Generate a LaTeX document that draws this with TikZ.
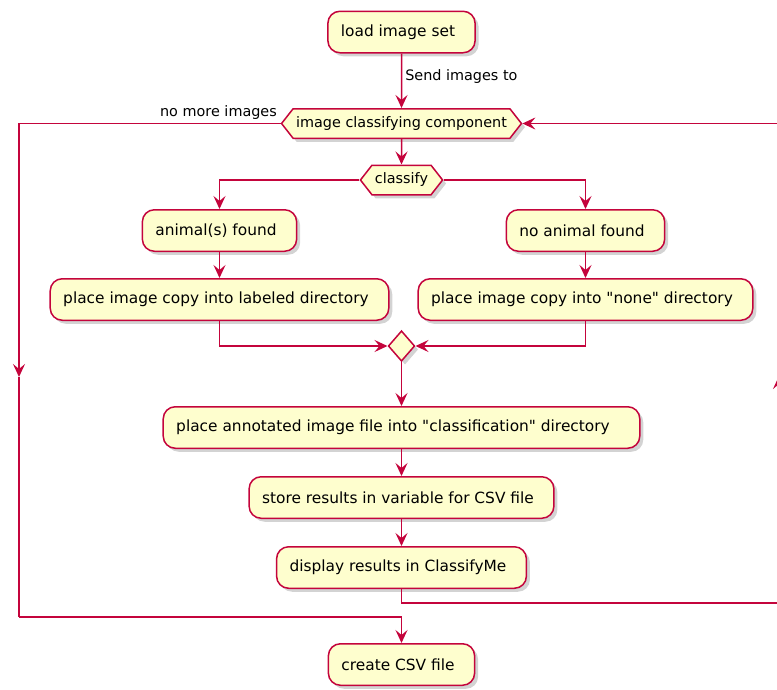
\documentclass[tikz,border=0pt]{standalone}
\usepackage{fontspec}
\setmainfont{DejaVu Sans}
\usetikzlibrary{positioning,shapes.geometric,shapes.symbols,shadows,arrows.meta}
\definecolor{umlred}{HTML}{C4043C}
\definecolor{umlfill}{HTML}{FEFECE}
\tikzset{
 b/.style
  = {rectangle, draw=umlred, fill=umlfill, line width=1.5pt, rounded corners=12pt,
     minimum height=41.5pt, inner xsep=13pt, font=\fontsize{15.4}{18}\selectfont,
     execute at end node=\hspace{7pt},
     drop shadow={shadow xshift=3.5pt, shadow yshift=-3.5pt, opacity=0.35}},
 h/.style
  = {signal, signal to=east and west, signal pointer angle=104, draw=umlred,
     fill=umlfill, line width=1.5pt, minimum height=29.5pt, inner xsep=3pt,
     font=\fontsize{14.4}{17}\selectfont,
     drop shadow={shadow xshift=3.5pt, shadow yshift=-3.5pt, opacity=0.35}},
 d/.style
  = {diamond, draw=umlred, fill=umlfill, line width=1.5pt, inner sep=0pt,
     minimum width=26.5pt, minimum height=30.5pt,
     drop shadow={shadow xshift=3.5pt, shadow yshift=-3.5pt, opacity=0.35}},
 l/.style
  = {draw=umlred, line width=1.5pt, -{Stealth[length=13pt, width=12pt, inset=5pt]}},
 ln/.style
  = {draw=umlred, line width=1.5pt},
 mylabel/.style
  = {font=\fontsize{14.4}{17}\selectfont, inner sep=3pt}
}
\begin{document}
\begin{tikzpicture}[x=1pt, y=-1pt]
    \useasboundingbox (0,0) rectangle (777,689);
    \node [b] (load) at (401.5,32) {load image set};
    \node [h, below = 54.5pt of load] (comp) {image classifying component};
    \node [h, below = 25.5pt of comp] (classify) {classify};
    \node [b, below = 13.5pt of classify, xshift=-182pt] (animal) {animal(s) found};
    \node [b, below = 13.5pt of classify, xshift=184pt] (noanimal) {no animal found};
    \node [b, below = 26pt of animal] (labeled) {place image copy into labeled directory};
    \node [b, below = 26pt of noanimal] (none) {place image copy into \textquotedbl none\textquotedbl\ directory};
    \node [d, below = 134.5pt of classify] (join) {};
    \node [b, below = 44pt of join, execute at end node=\hspace{10pt}] (annotated)
      {place annotated image file into \textquotedbl classification\textquotedbl\ directory};
    \node [b, below = 27pt of annotated] (store) {store results in variable for CSV file};
    \node [b, below = 27pt of store] (display) {display results in ClassifyMe};
    \node [b, below = 54pt of display] (csv) {create CSV file};

    \coordinate (lmid) at (19,377);
    \coordinate (lend) at (19,617);
    \coordinate (rend) at (779,603);
    \coordinate (rmid) at (779,376);

    \path [l] (load) -- node[mylabel, right, pos=0.42]{Send images to} (comp);
    \path [l] (comp) -- (classify);
    \path [l] (classify.west) -| (animal.north);
    \path [l] (classify.east) -| (noanimal.north);
    \path [l] (animal) -- (labeled);
    \path [l] (noanimal) -- (none);
    \path [l] (labeled.south) |- (join.west);
    \path [l] (none.south) |- (join.east);
    \path [l] (join) -- (annotated);
    \path [l] (annotated) -- (store);
    \path [l] (store) -- (display);
    % no more images: leave the loop
    \path [l] (comp.west) node[mylabel, above left]{no more images} -| (lmid);
    \path [ln] (lmid) -- (lend);
    \path [l] (lend) -| (csv.north);
    % next image
    \path [ln] (display.south) |- (rend);
    \path [l] (rend) -- (rmid);
    \path [l] (rmid) |- (comp.east);
\end{tikzpicture}
\end{document}
